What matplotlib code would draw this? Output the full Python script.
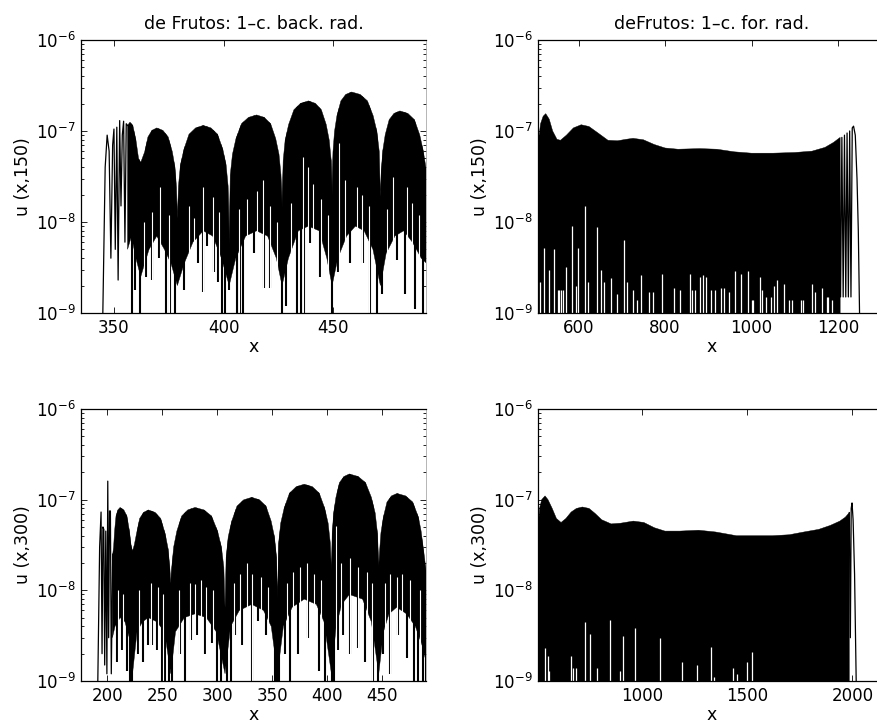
import numpy as np
import matplotlib
matplotlib.use("Agg")
import matplotlib.pyplot as plt
from matplotlib.patches import Polygon
from matplotlib.ticker import NullFormatter

plt.rcParams['font.family'] = ['DejaVu Sans']

# ---------------- top left: back radiation, u(x,150) ----------------
tl_lead_x = [344.9, 346.0, 346.9, 347.8, 348.6, 349.4, 350.0, 350.6, 351.3, 351.9,
             352.6, 353.2, 353.8, 354.4, 355.0, 355.6, 356.2]
tl_lead_y = [9e-10, 4e-8, 9e-8, 6e-8, 4e-9, 7e-8, 1.05e-7, 5e-9, 1.1e-7, 2.3e-9,
             1.3e-7, 1.5e-8, 9e-8, 1.28e-7, 6e-9, 1.2e-7, 1.15e-7]
tl_env_x = [356.2, 357.3, 358.6, 360.0, 361.2, 362.2,
            364.0, 365.5, 367.3, 369.5, 372.3, 374.7, 376.6, 377.8, 378.5, 378.9,
            379.4, 380.3, 381.9, 384.2, 387.2, 390.7, 394.2, 397.2, 399.6, 401.1, 402.0, 402.5,
            403.0, 404.0, 405.6, 408.1, 411.3, 415.0, 418.5, 421.4, 423.7, 425.2, 426.1, 426.6,
            427.1, 428.0, 429.6, 432.0, 435.0, 438.6, 441.8, 444.5, 446.7, 448.1, 449.0, 449.4,
            449.8, 450.5, 451.6, 453.4, 455.6, 458.3, 462.2, 465.5, 468.1, 469.8, 470.9, 471.4,
            471.8, 472.5, 473.6, 475.4, 477.6, 480.3, 483.9, 486.9, 489.3, 490.9, 492.5]
tl_env_y = [1.15e-7, 1.25e-7, 1.15e-7, 8e-8, 5e-8, 4.5e-8,
            5.9e-8, 8.6e-8, 1.015e-7, 1.08e-7, 1.015e-7, 8.6e-8, 5.9e-8, 4.0e-8, 2.4e-8, 1.1e-8,
            2.5e-8, 4.25e-8, 6.3e-8, 9.2e-8, 1.08e-7, 1.15e-7, 1.08e-7, 9.2e-8, 6.3e-8, 4.25e-8, 2.5e-8, 5.4e-9,
            3.3e-8, 5.55e-8, 8.25e-8, 1.2e-7, 1.41e-7, 1.5e-7, 1.41e-7, 1.2e-7, 8.25e-8, 5.55e-8, 3.3e-8, 1.4e-8,
            4.7e-8, 7.9e-8, 1.18e-7, 1.71e-7, 2.01e-7, 2.14e-7, 2.01e-7, 1.71e-7, 1.18e-7, 7.9e-8, 4.7e-8, 1.9e-8,
            5.9e-8, 9.9e-8, 1.47e-7, 2.14e-7, 2.52e-7, 2.68e-7, 2.52e-7, 2.14e-7, 1.47e-7, 9.9e-8, 5.9e-8, 1.9e-8,
            3.65e-8, 6.1e-8, 9.1e-8, 1.33e-7, 1.56e-7, 1.66e-7, 1.56e-7, 1.33e-7, 9.1e-8, 6.1e-8, 3.5e-8]
tl_lo_x = [356.2, 358.0, 360.0, 362.2, 364.0, 366.0, 369.5, 373.0, 376.0, 378.9,
           382.0, 386.0, 390.7, 395.0, 399.0, 402.5, 405.5, 410.0, 415.0, 420.0,
           424.0, 426.6, 429.5, 434.0, 438.6, 443.5, 447.0, 449.4, 452.0, 456.0,
           460.0, 464.0, 468.0, 471.4, 474.0, 478.0, 482.0, 486.0, 490.0, 492.5]
tl_lo_y = [5e-9, 7e-9, 4e-9, 2.5e-9, 3.5e-9, 5e-9, 7e-9, 5e-9, 3.5e-9, 2e-9,
           3.5e-9, 6e-9, 8e-9, 7e-9, 4e-9, 2e-9, 4e-9, 7e-9, 8e-9, 7e-9,
           4e-9, 2e-9, 4e-9, 8e-9, 9e-9, 8e-9, 4e-9, 2e-9, 4e-9, 7e-9,
           9e-9, 8e-9, 5e-9, 2e-9, 4.5e-9, 7e-9, 8e-9, 6e-9, 4e-9, 3.5e-9]
tl_spike_x = [358.1, 359.6, 361.9, 364.5, 367.2, 370.5, 373.9, 375.5, 377.8, 380.4,
              381.8, 388.5, 390.5, 392.2, 395.5, 397.5, 399.2, 400.8, 402.4, 406.0,
              407.5, 409.0, 414.0, 418.4, 421.3, 426.6, 428.4, 433.3, 435.0, 436.4,
              439.3, 443.9, 449.2, 452.1, 457.5, 463.5, 466.7, 469.9, 472.0, 478.8,
              482.6, 487.2, 490.6]
tl_spike_y = [9e-10, 1.8e-9, 9e-10, 2.5e-9, 2.3e-9, 4e-9, 9e-10, 9e-10, 9e-10, 3e-9,
              1.8e-9, 3.5e-9, 1.7e-9, 5.5e-9, 2.8e-9, 2.2e-9, 9e-10, 9e-10, 1.8e-9, 9e-10,
              9e-10, 9e-10, 4.6e-9, 1.9e-9, 1.9e-9, 9e-10, 1.2e-9, 9e-10, 9e-10, 9e-10,
              5.9e-9, 2.5e-9, 9e-10, 2.8e-9, 3.5e-9, 3.5e-9, 9e-10, 9e-10, 1.6e-9, 3.8e-9,
              1.6e-9, 1.1e-9, 9e-10]
tl_gap_x = [363.5, 367.2, 371.0, 375.0, 384.0, 386.5, 390.7, 395.3, 398.0, 407.0,
            410.5, 415.0, 418.1, 421.0, 424.5, 430.5, 436.3, 438.6, 440.8, 444.5,
            447.5, 452.7, 455.3, 460.6, 463.0, 466.0, 474.5, 477.3, 483.4, 486.0, 489.0]
tl_gap_y = [1e-8, 1.3e-8, 2.4e-8, 1.2e-8, 1.5e-8, 1.1e-8, 2.4e-8, 1.9e-8, 1.3e-8, 1.4e-8,
            1.8e-8, 2.2e-8, 2.9e-8, 1.5e-8, 1e-8, 1.6e-8, 5.2e-8, 4e-8, 2.6e-8, 1.8e-8,
            1.2e-8, 7.4e-8, 2.9e-8, 2.4e-8, 2e-8, 1.5e-8, 1.4e-8, 3.1e-8, 2.4e-8, 1.6e-8, 1.2e-8]

# ---------------- bottom left: back radiation, u(x,300) ----------------
bl_lead_x = [191.3, 193.0, 194.3, 195.2, 196.0, 196.8, 197.6, 198.6, 199.6, 200.4,
             201.2, 202.0, 202.8, 203.6, 204.9]
bl_lead_y = [9e-10, 3e-8, 7.3e-8, 2e-9, 5e-8, 4.7e-8, 1.5e-9, 4.5e-8, 1.2e-9, 1.6e-7,
             3e-9, 7.5e-8, 7.5e-8, 1.2e-9, 2.5e-8]
bl_env_x = [204.9, 205.7, 206.6, 207.9, 209.6, 211.6, 215.0, 217.8, 220.1, 221.5, 222.9,
            224.6, 226.5, 229.4, 233.0, 237.3, 243.4, 248.5, 252.6, 255.3, 256.9, 257.7,
            258.6, 260.3, 263.2, 267.6, 273.1, 279.7, 287.9, 294.7, 300.2, 303.7, 305.9, 307.0,
            308.0, 309.9, 313.1, 317.9, 324.0, 331.3, 338.3, 344.2, 348.9, 351.9, 353.8, 354.7,
            355.7, 357.6, 360.8, 365.6, 371.7, 379.0, 386.4, 392.6, 397.5, 400.7, 402.7, 403.7,
            404.4, 405.7, 407.8, 411.0, 415.1, 420.0, 428.0, 434.7, 440.0, 443.5, 445.6, 446.7,
            447.4, 448.7, 450.9, 454.2, 458.3, 463.3, 471.1, 477.6, 482.8, 485.2, 488.5, 490.5]
bl_env_y = [2.5e-8, 3.0e-8, 4.5e-8, 6.6e-8, 7.7e-8, 8.2e-8, 7.7e-8, 6.6e-8, 4.5e-8, 3.2e-8, 2.7e-8,
            3.2e-8, 4.2e-8, 6.2e-8, 7.24e-8, 7.7e-8, 7.24e-8, 6.2e-8, 4.2e-8, 2.85e-8, 1.7e-8, 1.2e-8,
            1.8e-8, 3.0e-8, 4.5e-8, 6.6e-8, 7.7e-8, 8.2e-8, 7.7e-8, 6.6e-8, 4.5e-8, 3.0e-8, 1.8e-8, 6.4e-9,
            2.3e-8, 3.9e-8, 5.8e-8, 8.5e-8, 9.96e-8, 1.06e-7, 9.96e-8, 8.5e-8, 5.8e-8, 3.9e-8, 2.3e-8, 7.6e-9,
            3.3e-8, 5.5e-8, 8.1e-8, 1.18e-7, 1.39e-7, 1.48e-7, 1.39e-7, 1.18e-7, 8.1e-8, 5.5e-8, 3.3e-8, 1.6e-8,
            4.2e-8, 7.1e-8, 1.06e-7, 1.54e-7, 1.8e-7, 1.92e-7, 1.8e-7, 1.54e-7, 1.06e-7, 7.1e-8, 4.2e-8, 1.8e-8,
            2.6e-8, 4.3e-8, 6.4e-8, 9.4e-8, 1.1e-7, 1.17e-7, 1.1e-7, 9.4e-8, 6.4e-8, 4.5e-8, 2.2e-8, 1.3e-8]
bl_lo_x = [204.6, 207.0, 211.6, 216.0, 220.0, 222.9, 227.0, 232.0, 237.3, 245.0,
           252.0, 257.7, 262.0, 270.0, 279.7, 290.0, 299.0, 307.0, 312.0, 320.0,
           331.3, 342.0, 349.0, 354.7, 360.0, 368.0, 379.0, 390.0, 397.0, 403.7,
           408.0, 413.0, 420.0, 432.0, 440.0, 446.7, 451.0, 456.0, 463.0, 472.0,
           480.0, 486.0, 490.5]
bl_lo_y = [3e-9, 4e-9, 5e-9, 4.5e-9, 3e-9, 1.2e-9, 3.5e-9, 4.5e-9, 5e-9, 4.5e-9,
           3.5e-9, 1.2e-9, 3.5e-9, 5e-9, 5.5e-9, 5e-9, 3.5e-9, 1.2e-9, 4e-9, 6e-9,
           7e-9, 6e-9, 4e-9, 1.2e-9, 4e-9, 6.5e-9, 8e-9, 7e-9, 4.5e-9, 1.2e-9,
           4e-9, 7e-9, 9e-9, 8e-9, 4.5e-9, 1.2e-9, 3.5e-9, 5.5e-9, 6.5e-9, 5.5e-9,
           4e-9, 2.5e-9, 1.5e-9]
bl_spike_x = [208.6, 213.1, 217.7, 220.7, 222.5, 228.2, 232.7, 237.3, 240.3, 244.9,
              249.5, 252.5, 256.0, 259.0, 266.1, 270.6, 275.6, 281.6, 288.8, 294.9,
              300.0, 303.5, 309.0, 312.0, 316.1, 322.1, 331.5, 337.3, 344.1, 352.5,
              353.8, 356.4, 361.6, 366.1, 373.7, 382.7, 392.5, 397.9, 404.0, 406.0,
              410.0, 414.6, 420.6, 428.0, 434.3, 441.8, 446.0, 450.9, 457.0, 464.5,
              472.2, 478.8, 482.0, 487.0, 489.5]
bl_spike_y = [1.6e-9, 2.2e-9, 1.3e-9, 9e-10, 9e-10, 2e-9, 1.6e-9, 2.5e-9, 2.5e-9, 2.2e-9,
              9e-10, 9e-10, 9e-10, 9e-10, 2e-9, 9e-10, 2.8e-9, 3.2e-9, 2e-9, 2.6e-9,
              9e-10, 9e-10, 9e-10, 9e-10, 3.2e-9, 2.5e-9, 9e-10, 4.6e-9, 3.2e-9, 9e-10,
              9e-10, 9e-10, 2e-9, 9e-10, 2e-9, 3e-9, 1.3e-9, 9e-10, 9e-10, 9e-10,
              2.2e-9, 3.2e-9, 2e-9, 2.3e-9, 1.6e-9, 9e-10, 9e-10, 2e-9, 1.2e-9, 3.2e-9,
              1.8e-9, 9e-10, 9e-10, 9e-10, 9e-10]
bl_gap_x = [209.5, 214.0, 228.5, 240.0, 246.0, 251.0, 265.0, 275.0, 279.7, 285.0,
            290.0, 296.5, 315.0, 320.5, 327.0, 331.5, 340.0, 346.0, 363.0, 369.0,
            375.2, 381.3, 388.0, 394.5, 407.9, 412.5, 420.6, 428.0, 436.0, 441.0,
            452.0, 457.0, 463.0, 468.0, 475.0, 484.0]
bl_gap_y = [1e-8, 9e-9, 1e-8, 1.2e-8, 1.1e-8, 9e-9, 1e-8, 1.2e-8, 1.16e-8, 1.3e-8,
            1.1e-8, 1e-8, 1.2e-8, 1.5e-8, 2e-8, 1.5e-8, 1.4e-8, 1.1e-8, 1.2e-8, 1.6e-8,
            1.8e-8, 2e-8, 1.5e-8, 1.3e-8, 5.1e-8, 2e-8, 2.3e-8, 1.8e-8, 1.6e-8, 1.2e-8,
            1.2e-8, 1.5e-8, 1.4e-8, 1.5e-8, 1.3e-8, 1e-8]

# ---------------- top right: forward radiation, u(x,150) ----------------
tr_env_x = [506, 512, 518, 524, 532, 540, 550, 558, 572, 588, 606, 624, 645, 668, 690,
            710, 726, 750, 775, 800, 830, 880, 920, 960, 1000, 1050, 1100, 1140, 1170,
            1190, 1205]
tr_env_y = [7e-8, 1.2e-7, 1.45e-7, 1.55e-7, 1.35e-7, 1.0e-7, 8.1e-8, 7.9e-8, 9.0e-8,
            1.08e-7, 1.17e-7, 1.12e-7, 9.5e-8, 7.9e-8, 7.8e-8, 8.1e-8, 8.3e-8, 8.0e-8,
            7.1e-8, 6.5e-8, 6.3e-8, 6.4e-8, 6.3e-8, 5.9e-8, 5.7e-8, 5.7e-8, 5.8e-8,
            6.0e-8, 6.6e-8, 7.5e-8, 8.5e-8]
tr_tail_x = [1203, 1206, 1209, 1212, 1215, 1218, 1221, 1224, 1227, 1230, 1233, 1236,
             1240, 1244, 1247, 1250]
tr_tail_y = [8e-8, 1.5e-9, 8.5e-8, 1.5e-9, 9e-8, 1.5e-9, 9.5e-8, 1.5e-9, 1.0e-7, 1.5e-9,
             1.08e-7, 1.13e-7, 9e-8, 3e-8, 8e-9, 9e-10]
tr_gap_x = [511, 519, 531, 543.7, 552, 555, 560, 565, 570, 584.6, 594, 598.5, 613.8,
            622, 642.4, 651, 659, 675.6, 688, 704, 712, 725, 735, 745, 763, 772, 794,
            819.7, 835, 858, 862, 869, 881, 887, 895, 906, 916, 929, 936, 947, 960.8,
            976, 991, 1000, 1004, 1018.6, 1024, 1034, 1045, 1052, 1060, 1076, 1086,
            1093, 1115, 1120, 1140, 1147, 1164, 1174, 1177, 1186]
tr_gap_y = [2.2e-9, 5.2e-9, 3e-9, 5e-9, 1.8e-9, 1.8e-9, 1.8e-9, 1.8e-9, 3.2e-9, 9e-9,
            2e-9, 5.2e-9, 1.5e-8, 2.2e-9, 8.7e-9, 3e-9, 2.2e-9, 2.4e-9, 1.6e-9, 6.4e-9,
            2.2e-9, 1.8e-9, 1.4e-9, 2.6e-9, 1.7e-9, 1.7e-9, 2.7e-9, 1.9e-9, 1.8e-9,
            2.7e-9, 1.8e-9, 1.8e-9, 2.5e-9, 2.6e-9, 2.5e-9, 1.8e-9, 1.8e-9, 1.9e-9,
            1.9e-9, 1.7e-9, 2.9e-9, 2.7e-9, 2.9e-9, 1.4e-9, 1.4e-9, 2.5e-9, 1.8e-9,
            1.5e-9, 1.5e-9, 2e-9, 2.3e-9, 2.1e-9, 1.4e-9, 1.4e-9, 1.4e-9, 1.4e-9,
            2.1e-9, 1.7e-9, 1.9e-9, 1.5e-9, 1.5e-9, 1.4e-9]

# ---------------- bottom right: forward radiation, u(x,300) ----------------
br_env_x = [509, 515, 525, 541, 555, 575, 595, 617, 640, 665, 690, 718, 750, 780, 810,
            855, 900, 960, 1010, 1060, 1110, 1180, 1270, 1350, 1450, 1550, 1620, 1700,
            1770, 1840, 1895, 1940, 1966, 1985]
br_env_y = [4.9e-8, 8e-8, 1.0e-7, 1.1e-7, 1.0e-7, 8e-8, 6.2e-8, 5.6e-8, 6.2e-8, 7.3e-8,
            8.0e-8, 8.3e-8, 8.0e-8, 7.0e-8, 6.0e-8, 5.4e-8, 5.5e-8, 5.8e-8, 5.6e-8,
            4.9e-8, 4.5e-8, 4.5e-8, 4.6e-8, 4.4e-8, 4.0e-8, 4.0e-8, 4.0e-8, 4.1e-8,
            4.4e-8, 4.7e-8, 5.2e-8, 5.8e-8, 6.4e-8, 7.2e-8]
br_tail_x = [1985, 1990, 1994, 1998, 2003, 2010, 2018]
br_tail_y = [7.2e-8, 3e-9, 8e-8, 9.2e-8, 6e-8, 1.5e-8, 9e-10]
br_gap_x = [541, 553.6, 559, 664, 675, 690, 729, 754, 786, 850.7, 897, 911, 969, 1085,
            1190, 1260, 1329, 1344, 1435, 1454, 1498, 1524]
br_gap_y = [2.3e-9, 1.9e-9, 1.3e-9, 1.9e-9, 1.4e-9, 1.4e-9, 4.5e-9, 3.3e-9, 1.4e-9,
            4.7e-9, 1.3e-9, 3.1e-9, 3.8e-9, 3e-9, 1.6e-9, 1.5e-9, 2.4e-9, 1.1e-9,
            1.4e-9, 1.2e-9, 1.6e-9, 2.1e-9]

FS_TICK = 12
FS_LAB = 12.5
YMIN, YMAX = 1e-9, 1e-6
FLOOR = 1e-10


def style_axes(ax, xlim, xticks, ylabel, title=None, right_spine=True):
    ax.set_yscale('log')
    ax.set_ylim(YMIN, YMAX)
    ax.set_xlim(*xlim)
    ax.set_xticks(xticks)
    ax.set_yticks([1e-9, 1e-8, 1e-7, 1e-6])
    ax.yaxis.set_minor_formatter(NullFormatter())
    ax.tick_params(which='both', direction='in', top=True, right=True,
                   labelsize=FS_TICK, width=0.6, pad=4)
    ax.tick_params(which='major', length=4)
    ax.tick_params(which='minor', length=2)
    for s in ax.spines.values():
        s.set_linewidth(0.9)
    if right_spine:
        ax.spines['right'].set_color('#999999')
        ax.spines['right'].set_linewidth(0.5)
    ax.set_xlabel('x', fontsize=FS_LAB, labelpad=1)
    ax.set_ylabel(ylabel, fontsize=FS_LAB, labelpad=3)
    if title:
        ax.set_title(title, fontsize=FS_LAB, pad=8)


def draw_back(ax, lead_x, lead_y, env_x, env_y, lo_x, lo_y, sp_x, sp_y, gap_x, gap_y):
    ax.plot(lead_x, lead_y, color='black', lw=0.9, zorder=2)
    ax.fill(env_x + lo_x[::-1], env_y + lo_y[::-1], color='black', lw=0.3, zorder=2)
    under = Polygon(list(zip(env_x + [env_x[-1], env_x[0]], env_y + [FLOOR, FLOOR])),
                    closed=True, transform=ax.transData)
    sp = ax.vlines(sp_x, sp_y, YMAX, color='black', lw=1.5, zorder=2)
    sp.set_clip_path(under)
    ax.vlines(gap_x, FLOOR, gap_y, color='white', lw=0.8, zorder=2.1)


def draw_forward(ax, env_x, env_y, tail_x, tail_y, gap_x, gap_y):
    ax.fill(env_x + [env_x[-1], env_x[0]], env_y + [FLOOR, FLOOR], color='black',
            lw=0.3, zorder=2)
    ax.vlines(gap_x, FLOOR, gap_y, color='white', lw=0.9, zorder=2.1)
    ax.plot(tail_x, tail_y, color='black', lw=0.9, zorder=2)


fig = plt.figure(figsize=(8.77, 7.28), dpi=100)
ax_tl = fig.add_axes([0.0924, 0.5701, 0.3934, 0.3750])
ax_tr = fig.add_axes([0.6134, 0.5701, 0.3957, 0.3750])
ax_bl = fig.add_axes([0.0924, 0.0646, 0.3934, 0.3736])
ax_br = fig.add_axes([0.6138, 0.0646, 0.3957, 0.3736])

draw_back(ax_tl, tl_lead_x, tl_lead_y, tl_env_x, tl_env_y, tl_lo_x, tl_lo_y,
          tl_spike_x, tl_spike_y, tl_gap_x, tl_gap_y)
style_axes(ax_tl, (335, 492.2), [350, 400, 450], 'u (x,150)',
           'de Frutos: 1\u2013c. back. rad.')

draw_back(ax_bl, bl_lead_x, bl_lead_y, bl_env_x, bl_env_y, bl_lo_x, bl_lo_y,
          bl_spike_x, bl_spike_y, bl_gap_x, bl_gap_y)
style_axes(ax_bl, (176.1, 489.7), [200, 250, 300, 350, 400, 450], 'u (x,300)')

draw_forward(ax_tr, tr_env_x, tr_env_y, tr_tail_x, tr_tail_y, tr_gap_x, tr_gap_y)
style_axes(ax_tr, (506, 1308.7), [600, 800, 1000, 1200], 'u (x,150)',
           'deFrutos: 1\u2013c. for. rad.', right_spine=False)

draw_forward(ax_br, br_env_x, br_env_y, br_tail_x, br_tail_y, br_gap_x, br_gap_y)
style_axes(ax_br, (509, 2156), [1000, 1500, 2000], 'u (x,300)', right_spine=False)

fig.savefig('out.png', dpi=100)
